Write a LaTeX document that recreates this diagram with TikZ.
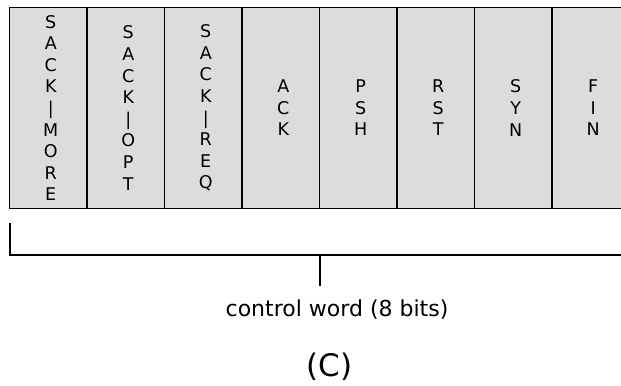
\documentclass[tikz,border=0pt]{standalone}
\usepackage{fontspec}
\setmainfont{DejaVu Sans}
\begin{document}
\begin{tikzpicture}[x=1bp,y=-1bp,
  cellbox/.style={draw=black,line width=1.2bp,fill=cellgray,minimum width=77.5bp,minimum height=201bp,inner sep=0pt,outer sep=0pt},
  celltext/.style={align=center,font=\fontsize{17.5bp}{21.6bp}\selectfont,inner sep=0pt,xshift=2.5bp},
  bracket/.style={draw=black,line width=1.2bp}]
\definecolor{cellgray}{HTML}{DCDCDC}
\useasboundingbox (0,0) rectangle (621,385);
\clip (0,0) rectangle (621,385);
\foreach \i/\t in {0/{S\\A\\C\\K\\|\\M\\O\\R\\E},1/{S\\A\\C\\K\\|\\O\\P\\T},2/{S\\A\\C\\K\\|\\R\\E\\Q},3/{A\\C\\K},4/{P\\S\\H},5/{R\\S\\T},6/{S\\Y\\N},7/{F\\I\\N}}{
  \node[cellbox,anchor=north west] (c\i) at ({9.5+77.5*\i},7.5) {};
  \node[celltext] (t\i) at (c\i.center) {\t};
}
\coordinate (bl) at (10,223);
\coordinate (br) at (630,223);
\coordinate (bm) at (320,255);
\coordinate (tick) at (320,286);
\draw[bracket] (bl) |- (br |- bm) -- (br);
\draw[bracket] (bm) -- (tick);
\node[font=\fontsize{22bp}{26bp}\selectfont,inner sep=0pt] (lbl) at (337,310) {control word (8 bits)};
\node[font=\fontsize{31bp}{35bp}\selectfont,inner sep=0pt] (cap) at (329.5,367) {(C)};
\end{tikzpicture}
\end{document}
